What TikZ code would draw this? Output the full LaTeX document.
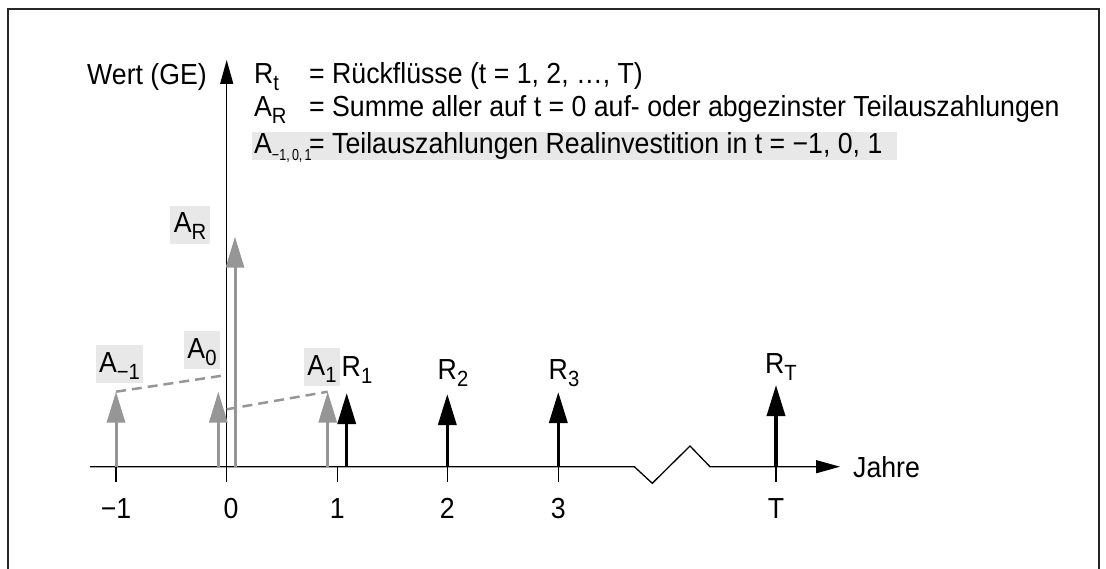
\documentclass[tikz,border=0pt]{standalone}
\usepackage{fontspec}
\setmainfont{Liberation Sans}[FakeStretch=0.92]
\usetikzlibrary{arrows.meta}
\newcommand\sbs[1]{\raisebox{-7bp}{\fontsize{22bp}{22bp}\selectfont #1}}
\newcommand\sbsmall[1]{\raisebox{-7bp}{\fontsize{16bp}{16bp}\selectfont\scalebox{0.85}[1]{#1}}}
\definecolor{lbg}{RGB}{232,232,232}
\definecolor{agray}{RGB}{150,150,150}
\begin{document}
\begin{tikzpicture}[x=1bp,y=-1bp,
  every node/.style={font=\fontsize{29bp}{34bp}\selectfont, inner sep=0},
  axisline/.style={line width=1.3bp, black},
  axtip/.style={-{Triangle[length=24bp,width=13bp]}},
  rarrow/.style={line width=3.5bp, black, -{Triangle[length=31bp,width=18bp]}},
  garrow/.style={rarrow, agray, line width=3bp},
  dsh/.style={agray, line width=2.5bp, dash pattern=on 10bp off 6bp},
  lbl/.style={fill=lbg, inner xsep=3.5bp, inner ysep=0, text height=27bp, text depth=11bp, anchor=base},
  ticklbl/.style={anchor=base},
  legend/.style={anchor=base west}]
\useasboundingbox (0,0) rectangle (1106,569);
% frame
\draw[line width=1.5bp, black!85] (8,569) -- (8,9) -- (1099,9) -- (1099,569);

% legend
\fill[lbg] (252,132) rectangle (897,160);
\node[legend] (l1) at (254,83.3) {\makebox[55bp][l]{R\sbs{t}}= Rückflüsse (t = 1, 2, …, T)};
\node[legend] (l2) at (254,116.7) {\makebox[55bp][l]{A\sbs{R}}= Summe aller auf t = 0 auf- oder abgezinster Teilauszahlungen};
\node[legend] (l3) at (254,153.3) {\makebox[55bp][l]{A\sbsmall{−1,\,0,\,1}}= Teilauszahlungen Realinvestition in t = −1, 0, 1};

% axes
\coordinate (o) at (226.7,466.7);
\coordinate (ybot) at (226.7,482);
\coordinate (ytop) at (226.7,60);
\coordinate (xl) at (90,466.7);
\coordinate (z1) at (634.3,466.7);
\coordinate (z2) at (652.3,483.3);
\coordinate (z3) at (690,446);
\coordinate (z4) at (710,466.7);
\coordinate (xr) at (840,466.7);
\draw[axisline, axtip] (ybot) -- (ytop);
\draw[axisline, axtip] (xl) -- (z1) -- (z2) -- (z3) -- (z4) -- (xr);
\node[anchor=base east] (wert) at (207,85) {Wert (GE)};
\node[anchor=base west] (jahre) at (853,477) {Jahre};

% ticks
\foreach \nm/\xx in {m1/116, p1/337.3, p2/447.3, p3/558.3, pT/776}{
  \coordinate (t\nm a) at (\xx,466.7);
  \coordinate (t\nm b) at (\xx,481.7);
  \draw[axisline] (t\nm a) -- (t\nm b);
}
\node[ticklbl] (lm1) at (116,518) {−1};
\node[ticklbl] (l0) at (231,518) {0};
\node[ticklbl] (lp1) at (337.3,518) {1};
\node[ticklbl] (lp2) at (447.3,518) {2};
\node[ticklbl] (lp3) at (558.3,518) {3};
\node[ticklbl] (lpT) at (776,518) {T};

% gray payment arrows
\coordinate (am1b) at (116,466.7);   \coordinate (am1t) at (116,391.7);
\coordinate (a0b) at (218.3,466.7);  \coordinate (a0t) at (218.3,391.7);
\coordinate (aRb) at (235,466.7);    \coordinate (aRt) at (235,236.7);
\coordinate (a1b) at (327.7,466.7);  \coordinate (a1t) at (327.7,391.7);
\draw[garrow] (am1b) -- (am1t);
\draw[garrow] (a0b) -- (a0t);
\draw[garrow] (aRb) -- (aRt);
\draw[garrow] (a1b) -- (a1t);

% dashed compounding / discounting lines
\coordinate (d1e) at (226.7,375);
\coordinate (d2s) at (226.7,409.3);
\draw[dsh] (am1t) -- (d1e);
\draw[dsh] (d2s) -- (a1t);

% black return arrows
\coordinate (r1b) at (346.7,466.7);  \coordinate (r1t) at (346.7,393);
\coordinate (r2b) at (447.3,466.7);  \coordinate (r2t) at (447.3,394);
\coordinate (r3b) at (558.3,466.7);  \coordinate (r3t) at (558.3,392);
\coordinate (rTb) at (776,466.7);    \coordinate (rTt) at (776,385);
\draw[rarrow] (r1b) -- (r1t);
\draw[rarrow] (r2b) -- (r2t);
\draw[rarrow] (r3b) -- (r3t);
\draw[rarrow] (rTb) -- (rTt);

% labels
\node[lbl] (lAm1) at (119.5,372) {A\sbs{−1}};
\node[lbl] (lA0) at (202,358) {A\sbs{0}};
\node[lbl] (lAR) at (190,233) {A\sbs{R}};
\node[lbl] (lA1) at (322,375) {A\sbs{1}};
\node[anchor=base] (lR1) at (357,376.7) {R\sbs{1}};
\node[anchor=base] (lR2) at (453,379) {R\sbs{2}};
\node[anchor=base] (lR3) at (564,379) {R\sbs{3}};
\node[anchor=base] (lRT) at (781,373.3) {R\sbs{T}};
\end{tikzpicture}
\end{document}
